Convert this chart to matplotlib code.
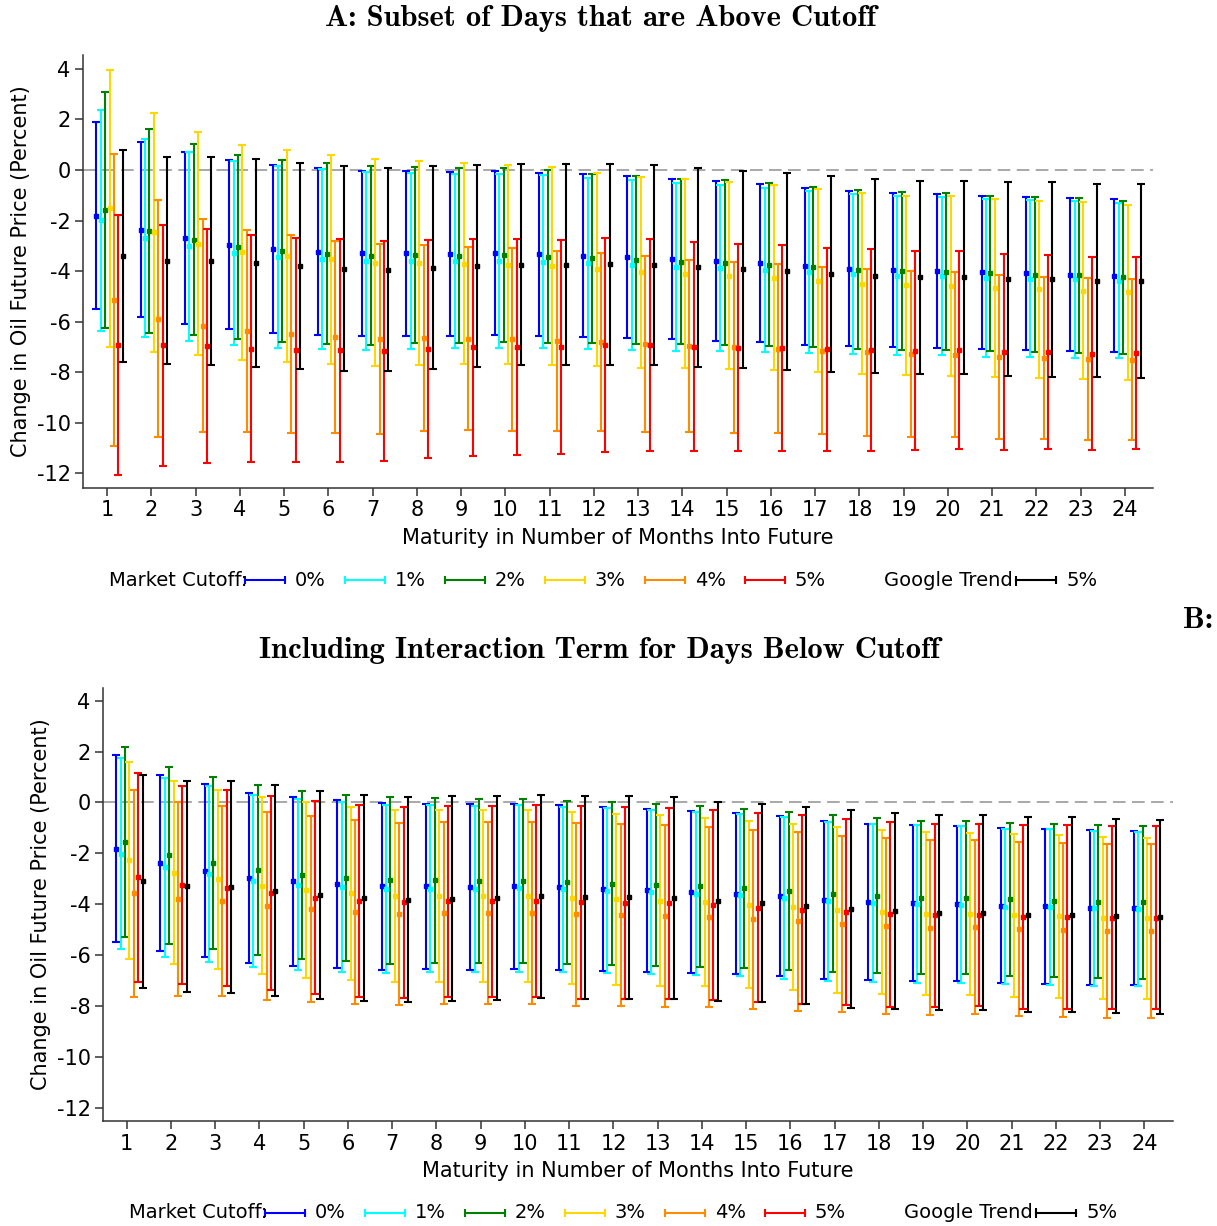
import matplotlib
matplotlib.use("Agg")
import matplotlib.pyplot as plt
from matplotlib.lines import Line2D
import numpy as np

plt.rcParams['font.family'] = 'DejaVu Sans'
plt.rcParams['axes.unicode_minus'] = False

months = list(range(1, 25))
cutoff_labels = ["0%", "1%", "2%", "3%", "4%", "5%"]
trend_label = "5%"
colors = ["#0000ff", "#00ffff", "#008000", "#ffd700", "#ff8c00", "#ff0000", "#000000"]

# panel A: upper / lower confidence bounds, per series
a_hi_0 = [1.88, 1.09, 0.71, 0.39, 0.21, 0.07, -0.03, -0.05, -0.07, -0.05, -0.11, -0.16, -0.24, -0.36, -0.45, -0.57, -0.72, -0.83, -0.92, -0.95, -1.01, -1.05, -1.11, -1.16]
a_lo_0 = [-5.5, -5.83, -6.09, -6.3, -6.43, -6.53, -6.57, -6.55, -6.56, -6.53, -6.57, -6.61, -6.65, -6.69, -6.76, -6.82, -6.91, -6.97, -7.01, -7.03, -7.09, -7.13, -7.16, -7.2]
a_hi_1 = [2.38, 1.21, 0.71, 0.36, 0.16, 0.03, -0.09, -0.13, -0.15, -0.15, -0.19, -0.31, -0.41, -0.53, -0.59, -0.72, -0.83, -0.96, -1.03, -1.07, -1.16, -1.2, -1.24, -1.3]
a_lo_1 = [-6.37, -6.6, -6.75, -6.92, -7.03, -7.07, -7.12, -7.07, -7.05, -7.03, -7.05, -7.07, -7.11, -7.15, -7.15, -7.19, -7.24, -7.29, -7.33, -7.33, -7.38, -7.39, -7.42, -7.45]
a_hi_2 = [3.07, 1.64, 1.03, 0.61, 0.38, 0.26, 0.14, 0.13, 0.07, 0.06, -0.01, -0.14, -0.23, -0.34, -0.41, -0.53, -0.67, -0.8, -0.88, -0.92, -1.01, -1.07, -1.11, -1.21]
a_lo_2 = [-6.24, -6.43, -6.54, -6.7, -6.82, -6.87, -6.92, -6.86, -6.84, -6.82, -6.84, -6.84, -6.88, -6.9, -6.91, -6.95, -7.01, -7.08, -7.12, -7.12, -7.17, -7.2, -7.22, -7.26]
a_hi_3 = [3.96, 2.26, 1.51, 1.0, 0.78, 0.59, 0.42, 0.36, 0.26, 0.2, 0.11, -0.1, -0.26, -0.36, -0.48, -0.6, -0.76, -0.92, -1.01, -1.04, -1.16, -1.22, -1.28, -1.37]
a_lo_3 = [-7.0, -7.2, -7.33, -7.5, -7.6, -7.66, -7.75, -7.7, -7.69, -7.69, -7.73, -7.77, -7.82, -7.85, -7.88, -7.93, -8.0, -8.07, -8.12, -8.13, -8.2, -8.22, -8.26, -8.3]
a_hi_4 = [0.64, -1.18, -1.95, -2.38, -2.59, -2.79, -2.93, -2.98, -3.05, -3.1, -3.2, -3.3, -3.41, -3.55, -3.65, -3.72, -3.84, -3.92, -4.0, -4.05, -4.17, -4.24, -4.29, -4.32]
a_lo_4 = [-10.9, -10.58, -10.37, -10.37, -10.42, -10.42, -10.43, -10.34, -10.3, -10.31, -10.34, -10.31, -10.35, -10.38, -10.39, -10.41, -10.46, -10.51, -10.55, -10.57, -10.63, -10.66, -10.68, -10.7]
a_hi_5 = [-1.79, -2.16, -2.33, -2.57, -2.67, -2.74, -2.82, -2.76, -2.73, -2.72, -2.76, -2.69, -2.74, -2.85, -2.94, -2.98, -3.07, -3.14, -3.21, -3.22, -3.34, -3.38, -3.45, -3.45]
a_lo_5 = [-12.07, -11.71, -11.59, -11.57, -11.57, -11.54, -11.53, -11.39, -11.3, -11.26, -11.24, -11.15, -11.11, -11.12, -11.11, -11.12, -11.11, -11.11, -11.08, -11.03, -11.07, -11.05, -11.07, -11.04]
a_hi_g = [0.8, 0.5, 0.53, 0.42, 0.26, 0.14, 0.08, 0.14, 0.18, 0.23, 0.23, 0.24, 0.19, 0.07, -0.02, -0.11, -0.25, -0.34, -0.42, -0.42, -0.49, -0.49, -0.55, -0.57]
a_lo_g = [-7.58, -7.68, -7.72, -7.8, -7.89, -7.96, -7.97, -7.86, -7.81, -7.73, -7.73, -7.7, -7.72, -7.78, -7.82, -7.91, -8.01, -8.05, -8.08, -8.07, -8.16, -8.17, -8.2, -8.22]

# panel B
b_hi_0 = [1.87, 1.09, 0.72, 0.39, 0.22, 0.08, -0.01, -0.04, -0.07, -0.05, -0.1, -0.16, -0.25, -0.35, -0.42, -0.55, -0.71, -0.83, -0.9, -0.93, -1.01, -1.05, -1.1, -1.14]
b_lo_0 = [-5.5, -5.83, -6.07, -6.3, -6.42, -6.51, -6.58, -6.55, -6.57, -6.53, -6.58, -6.62, -6.66, -6.7, -6.75, -6.84, -6.93, -6.99, -7.02, -7.02, -7.09, -7.12, -7.16, -7.18]
b_hi_1 = [1.73, 0.96, 0.64, 0.31, 0.14, 0.01, -0.08, -0.1, -0.12, -0.1, -0.16, -0.21, -0.29, -0.39, -0.46, -0.59, -0.75, -0.84, -0.9, -0.94, -1.04, -1.06, -1.13, -1.17]
b_lo_1 = [-5.77, -6.06, -6.28, -6.47, -6.59, -6.66, -6.7, -6.68, -6.68, -6.66, -6.68, -6.72, -6.75, -6.78, -6.84, -6.92, -7.0, -7.05, -7.08, -7.08, -7.14, -7.16, -7.2, -7.22]
b_hi_2 = [2.19, 1.4, 1.01, 0.67, 0.46, 0.3, 0.2, 0.18, 0.14, 0.14, 0.07, 0.01, -0.05, -0.14, -0.24, -0.37, -0.5, -0.6, -0.71, -0.72, -0.79, -0.84, -0.89, -0.93]
b_lo_2 = [-5.28, -5.56, -5.77, -6.0, -6.15, -6.25, -6.33, -6.3, -6.32, -6.3, -6.36, -6.38, -6.42, -6.46, -6.51, -6.59, -6.67, -6.72, -6.76, -6.76, -6.83, -6.87, -6.91, -6.93]
b_hi_3 = [1.61, 0.84, 0.51, 0.2, 0.0, -0.16, -0.29, -0.29, -0.31, -0.31, -0.38, -0.45, -0.51, -0.6, -0.72, -0.83, -0.96, -1.09, -1.17, -1.18, -1.23, -1.28, -1.34, -1.38]
b_lo_3 = [-6.16, -6.36, -6.53, -6.75, -6.88, -6.99, -7.06, -7.04, -7.06, -7.06, -7.12, -7.17, -7.21, -7.23, -7.31, -7.39, -7.47, -7.52, -7.56, -7.55, -7.63, -7.67, -7.71, -7.73]
b_hi_4 = [0.5, 0.0, -0.14, -0.38, -0.54, -0.68, -0.79, -0.75, -0.75, -0.75, -0.81, -0.83, -0.87, -0.97, -1.07, -1.17, -1.3, -1.4, -1.49, -1.49, -1.56, -1.59, -1.63, -1.63]
b_lo_4 = [-7.64, -7.59, -7.6, -7.75, -7.85, -7.93, -7.97, -7.92, -7.92, -7.92, -7.99, -8.01, -8.03, -8.05, -8.11, -8.18, -8.24, -8.31, -8.34, -8.32, -8.41, -8.43, -8.47, -8.47]
b_hi_5 = [1.15, 0.64, 0.5, 0.26, 0.07, -0.08, -0.16, -0.12, -0.12, -0.09, -0.14, -0.16, -0.2, -0.31, -0.42, -0.51, -0.64, -0.75, -0.83, -0.83, -0.88, -0.9, -0.94, -0.94]
b_lo_5 = [-7.04, -7.13, -7.23, -7.39, -7.54, -7.64, -7.69, -7.64, -7.63, -7.63, -7.72, -7.72, -7.73, -7.77, -7.84, -7.92, -7.98, -8.02, -8.03, -7.99, -8.11, -8.11, -8.13, -8.13]
b_hi_g = [1.09, 0.84, 0.83, 0.67, 0.47, 0.3, 0.2, 0.24, 0.26, 0.29, 0.26, 0.26, 0.2, 0.03, -0.05, -0.16, -0.31, -0.42, -0.51, -0.51, -0.59, -0.59, -0.66, -0.68]
b_lo_g = [-7.29, -7.43, -7.48, -7.59, -7.71, -7.81, -7.86, -7.79, -7.75, -7.68, -7.72, -7.71, -7.73, -7.8, -7.85, -7.94, -8.06, -8.11, -8.14, -8.14, -8.22, -8.23, -8.27, -8.3]

panel_a = [(a_lo_0, a_hi_0), (a_lo_1, a_hi_1), (a_lo_2, a_hi_2), (a_lo_3, a_hi_3),
           (a_lo_4, a_hi_4), (a_lo_5, a_hi_5), (a_lo_g, a_hi_g)]
panel_b = [(b_lo_0, b_hi_0), (b_lo_1, b_hi_1), (b_lo_2, b_hi_2), (b_lo_3, b_hi_3),
           (b_lo_4, b_hi_4), (b_lo_5, b_hi_5), (b_lo_g, b_hi_g)]

W, H = 1217, 1226
FS = 15
LFS = 14
fig = plt.figure(figsize=(W / 100, H / 100), dpi=100)


def fx(px):
    return px / W


def fy(py):
    return 1 - py / H


def draw_panel(rect, series, ylim, xlim):
    ax = fig.add_axes(rect)
    x = np.array(months, dtype=float)
    ax.axhline(0, color="#a8a8a8", lw=1.4, ls=(0, (6.5, 3.3)), zorder=0)
    for i, (lo, hi) in enumerate(series):
        lo = np.array(lo)
        hi = np.array(hi)
        est = (lo + hi) / 2
        xs = x - 0.24 + 0.1 * i
        ax.errorbar(xs, est, yerr=[est - lo, hi - est], fmt="s", ms=3,
                    color=colors[i], ecolor=colors[i], elinewidth=1.5,
                    capsize=2.6, capthick=1.5, zorder=2)
    ax.set_xlim(*xlim)
    ax.set_ylim(*ylim)
    ax.set_xticks(months)
    ax.set_yticks(range(-12, 5, 2))
    ax.tick_params(labelsize=FS, length=6, width=1.1, color="#333333", pad=3)
    for s in ["top", "right"]:
        ax.spines[s].set_visible(False)
    for s in ["left", "bottom"]:
        ax.spines[s].set_color("#333333")
        ax.spines[s].set_linewidth(1.1)
    ax.set_ylabel("Change in Oil Future Price (Percent)", fontsize=FS, labelpad=4)
    ax.set_xlabel("Maturity in Number of Months Into Future", fontsize=FS, labelpad=5.5)
    return ax


def draw_legend(y, x0):
    fig.text(fx(x0), fy(y), "Market Cutoff:", fontsize=LFS, va="center", ha="left")
    for i in range(7):
        if i < 6:
            lx = x0 + 136 + 100 * i
            lab = cutoff_labels[i]
        else:
            lx = x0 + 907
            lab = trend_label
        fig.add_artist(Line2D([fx(lx), fx(lx + 40)], [fy(y), fy(y)], color=colors[i], lw=1.5))
        fig.add_artist(Line2D([fx(lx), fx(lx + 40)], [fy(y), fy(y)], color=colors[i], lw=0,
                              marker="|", ms=6, mew=1.5))
        fig.text(fx(lx + 50), fy(y), lab, fontsize=LFS, va="center", ha="left")
    fig.text(fx(x0 + 775), fy(y), "Google Trend:", fontsize=LFS, va="center", ha="left")


draw_panel([fx(83), fy(488), fx(1153 - 83), (488 - 55) / H], panel_a, (-12.58, 4.55), (0.458, 24.633))
draw_panel([fx(103), fy(1121), fx(1173 - 103), (1121 - 688) / H], panel_b, (-12.52, 4.5), (0.464, 24.646))

draw_legend(580, 109)
draw_legend(1213, 129)

fig.text(fx(600), fy(18), "A: Subset of Days that are Above Cutoff", fontfamily="cmb10",
         fontsize=22, ha="center", va="center")
fig.text(fx(1213), fy(620), "B:", fontfamily="cmb10", fontsize=22, ha="right", va="center")
fig.text(fx(599), fy(650), "Including Interaction Term for Days Below Cutoff", fontfamily="cmb10",
         fontsize=22, ha="center", va="center")

fig.savefig("out.png", dpi=100)
